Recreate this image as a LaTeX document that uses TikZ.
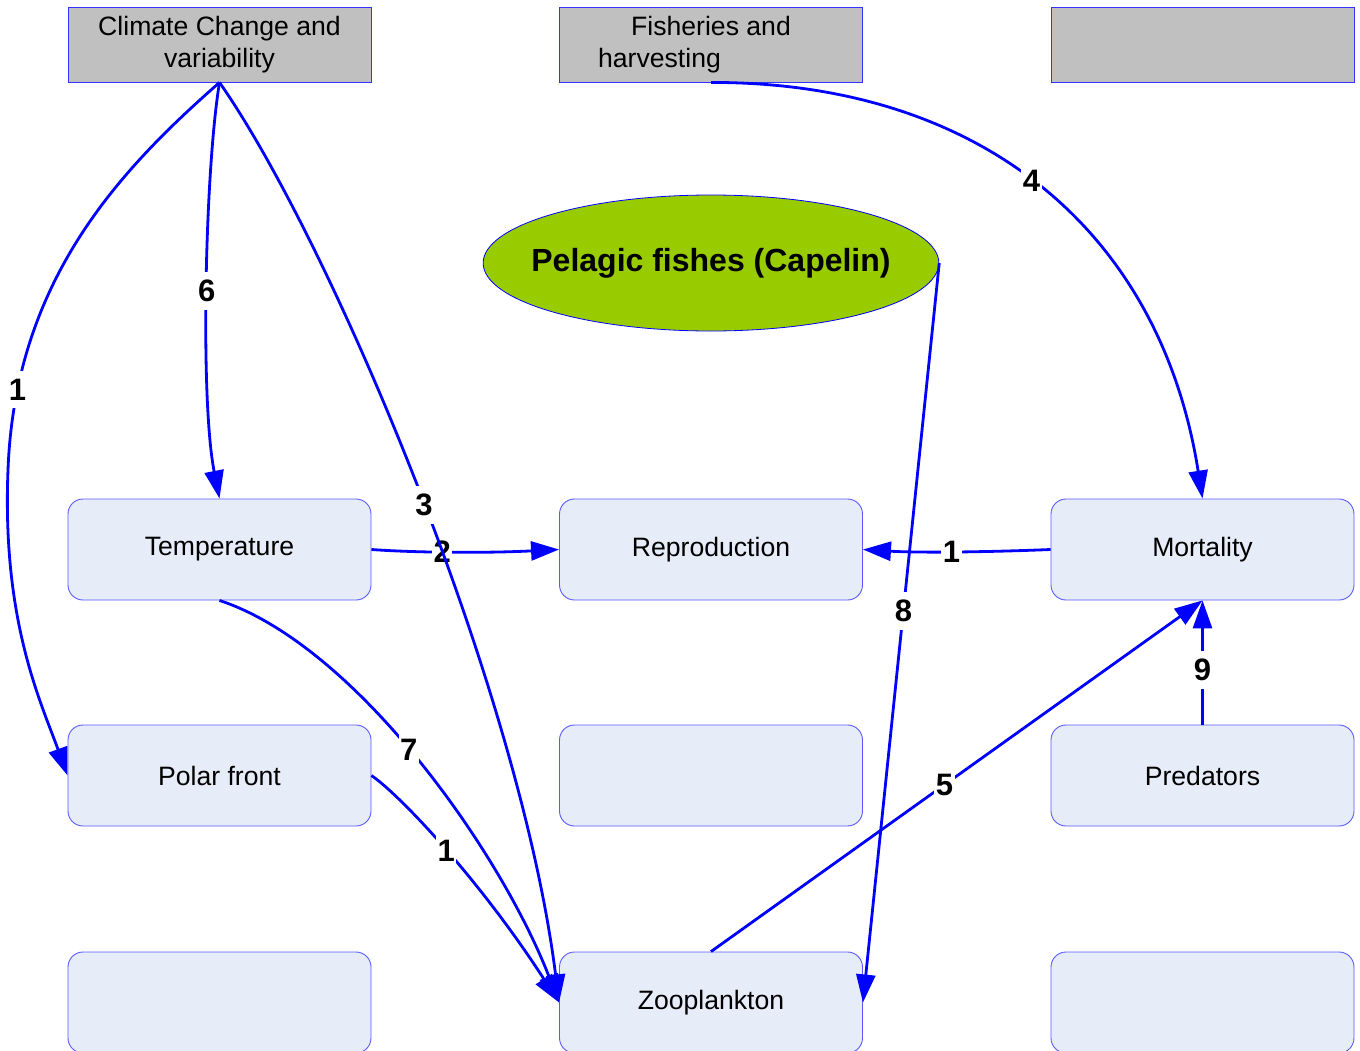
\documentclass[tikz,border=0pt]{standalone}
\usepackage{fontspec}
\setmainfont{Liberation Sans}
\usetikzlibrary{arrows.meta,shapes.geometric}
\definecolor{headgray}{HTML}{C0C0C0}
\definecolor{cellfill}{HTML}{E6ECF8}
\definecolor{cellline}{HTML}{5A5AFF}
\definecolor{fishgreen}{HTML}{99CC00}
\begin{document}
\begin{tikzpicture}[x=1pt,y=-1pt,
  headbox/.style={draw=blue!80!white, line width=0.9pt, fill=headgray, inner sep=0pt,
    minimum width=303pt, minimum height=75pt, align=center,
    font=\fontsize{26.6}{32}\selectfont},
  cell/.style={draw=cellline, line width=0.9pt, fill=cellfill, rounded corners=15pt,
    inner sep=0pt, minimum width=303pt, minimum height=101pt,
    font=\fontsize{26.6}{31}\selectfont},
  link/.style={draw=blue, line width=2.8pt, -{Triangle[length=28pt,width=19pt]}},
  lbl/.style={fill=white, inner xsep=1.5pt, inner ysep=8pt,
    font=\fontsize{31}{31}\selectfont\bfseries, text=black}]
\useasboundingbox (0,0) rectangle (1360,1050);

% driver boxes along the top
\node[headbox] (clim) at (219.5,44.5) {Climate Change and\\variability};
\node[headbox] (fish) at (711,44.5) {Fisheries and\\harvesting\hspace*{103pt}};
\node[headbox] (extra) at (1202.5,44.5) {};

% central species
\node[ellipse, draw=blue, line width=0.8pt, fill=fishgreen, inner xsep=-18.5pt, inner ysep=0pt,
  minimum width=454pt, minimum height=136pt,
  font=\fontsize{32}{36}\selectfont\bfseries] (pel) at (711,263) {Pelagic fishes (Capelin)};

% process grid
\node[cell] (temp)  at (219.5,549.5) {Temperature};
\node[cell] (repro) at (711,549.5) {Reproduction};
\node[cell] (mort)  at (1202.5,549.5) {Mortality};
\node[cell] (polar) at (219.5,775.5) {Polar front};
\node[cell] (mid)   at (711,775.5) {};
\node[cell] (pred)  at (1202.5,775.5) {Predators};
\node[cell] (bl)    at (219.5,1002.5) {};
\node[cell] (zoo)   at (711,1002.5) {Zooplankton};
\node[cell] (br)    at (1202.5,1002.5) {};

% effects on reproduction
\draw[link] (temp.east) .. controls (420,553) and (490,553) .. node[lbl,pos=0.42] {2} (repro.west);
\draw[link] (mort.west) .. controls (990,552) and (920,553) .. node[lbl,pos=0.52] {1} (repro.east);

% climate links
\draw[link] (clim.south) .. controls (205,170) and (200,400) .. node[lbl,pos=0.51] {6} (temp.north);
\draw[link] (clim.south) .. controls (120,170) and (15,280) .. node[lbl,pos=0.85] {1} (8,470)
  .. controls (2,620) and (40,700) .. (polar.west);
\draw[link] (clim.south) .. controls (330,240) and (520,690) .. node[lbl,pos=0.52] {3} (zoo.west);

% links into zooplankton
\draw[link] (temp.south) .. controls (355,645) and (500,850) .. node[lbl,pos=0.475] {7} (zoo.west);
\draw[link] (polar.east) .. controls (400,795) and (480,880) .. node[lbl,pos=0.5] {1} (zoo.west);
\draw[link] (pel.east) -- node[lbl,pos=0.47] {8} (zoo.east);

% links into mortality
\draw[link] (fish.south) .. controls (980,82) and (1160,230) .. node[lbl,pos=0.48] {4} (mort.north);
\draw[link] (zoo.north) -- node[lbl,pos=0.475] {5} (mort.south);
\draw[link] (pred.north) -- node[lbl,pos=0.44] {9} (mort.south);
\end{tikzpicture}
\end{document}
